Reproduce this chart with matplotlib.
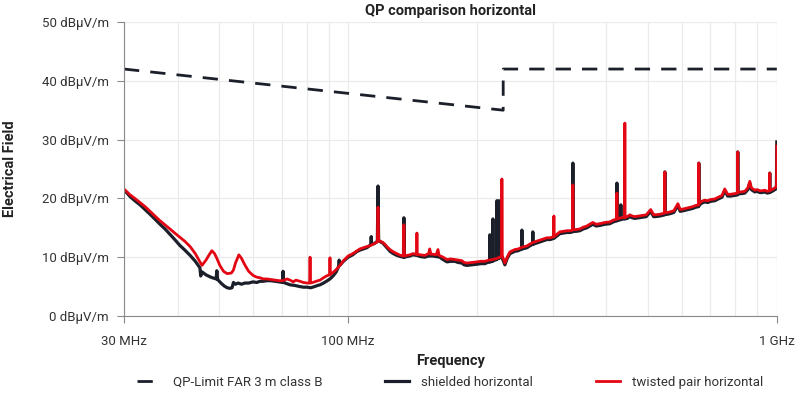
import matplotlib.pyplot as plt
from matplotlib.ticker import FixedLocator, NullFormatter, FixedFormatter

plt.rcParams['font.family'] = ['Roboto', 'DejaVu Sans']

# QP limit line (FAR 3 m, class B)
limit_f = [30, 230, 230, 1000]
limit_db = [42, 35, 42, 42]

# measured traces: (frequency MHz, level dBuV/m)
shielded_pts = [
    (30, 21.4), (30.5, 20.9), (31.0, 20.3), (31.8, 19.6), (32.7, 18.9), (33.6, 18.1),
    (34.5, 17.3), (35.4, 16.5), (36.4, 15.6), (37.4, 14.8), (38.4, 13.9), (39.4, 13.0),
    (40.5, 12.0), (41.6, 11.2), (42.8, 10.3), (44.0, 9.3), (45.1, 8.2), (45.3, 6.8),
    (45.6, 7.5), (46.6, 7.0), (47.8, 6.6), (49.2, 6.3), (49.4, 7.7), (49.6, 6.2),
    (50.5, 5.6), (51.4, 5.1), (52.2, 4.8), (53.0, 4.7), (53.6, 4.8), (54.0, 5.7),
    (54.6, 5.4), (55.4, 5.6), (56.4, 5.4), (57.4, 5.6), (58.6, 5.6), (60.0, 5.8),
    (61.2, 5.7), (62.3, 5.9), (63.4, 5.9), (64.6, 6.0), (66.0, 6.0), (67.5, 5.9),
    (69.0, 5.8), (70.3, 5.7), (70.5, 7.6), (70.7, 5.7), (72.0, 5.5), (73.2, 5.3),
    (75.0, 5.2), (77.2, 5.0), (78.6, 4.9), (80.2, 4.9), (81.8, 4.8), (83.5, 5.0),
    (85.0, 5.2), (86.0, 5.3), (87.6, 5.6), (89.0, 5.9), (90.7, 6.3), (92.2, 6.8),
    (93.8, 7.5), (95.0, 8.4), (95.3, 9.5), (95.6, 8.6), (97.5, 9.3), (100.0, 10.0),
    (102.5, 10.4), (104.5, 10.9), (106.5, 11.2), (108.5, 11.4), (110.5, 11.6), (112.0, 11.9),
    (113.0, 12.2), (113.2, 13.5), (113.4, 12.2), (115.0, 12.3), (117.0, 12.7), (117.4, 22.1),
    (117.8, 12.9), (119.0, 12.6), (120.5, 12.4), (121.8, 12.0), (123.5, 11.5), (125.2, 11.0),
    (127.5, 10.6), (130.0, 10.3), (132.5, 10.1), (134.6, 10.0), (134.9, 16.7), (135.3, 10.0),
    (137.0, 10.1), (139.4, 10.2), (141.5, 10.4), (144.7, 10.3), (147.5, 10.1), (151.0, 10.0),
    (154.0, 10.2), (157.7, 10.2), (160.5, 10.1), (163.7, 10.0), (166.5, 9.6), (170.0, 9.2),
    (173.5, 9.3), (177.4, 9.3), (180.5, 9.1), (184.2, 9.0), (186.5, 8.7), (189.2, 8.6),
    (194.5, 8.7), (199.7, 8.8), (204.0, 8.9), (208.4, 8.9), (211.5, 9.1), (213.9, 9.2),
    (214.1, 13.8), (214.4, 9.2), (217.3, 9.3), (217.6, 16.5), (217.9, 9.4), (222.1, 9.6),
    (222.4, 19.6), (222.7, 9.7), (224.6, 9.8), (224.8, 19.6), (225.1, 9.9), (228.4, 10.0),
    (232.1, 8.7), (235.0, 9.8), (238.4, 10.6), (241.5, 10.8), (244.9, 11.0), (249.5, 11.1),
    (254.0, 11.4), (254.3, 14.6), (254.6, 11.4), (261.2, 11.6), (265.0, 11.9), (269.4, 12.2),
    (269.7, 14.3), (270.0, 12.2), (275.0, 12.4), (280.1, 12.6), (285.5, 12.8), (290.8, 13.0),
    (296.0, 13.0), (302.0, 13.2), (307.0, 13.6), (311.8, 14.0), (317.5, 14.1), (323.7, 14.2),
    (329.0, 14.2), (334.1, 14.3), (334.4, 26.0), (334.7, 14.4), (340.5, 14.4), (347.2, 14.5),
    (353.5, 14.8), (360.5, 15.0), (366.0, 15.3), (372.3, 15.6), (379.0, 15.3), (386.7, 15.4),
    (397.0, 15.6), (407.9, 15.7), (415.5, 16.0), (423.3, 16.2), (423.6, 22.6), (423.9, 16.2),
    (428.0, 16.3), (432.5, 16.4), (432.7, 18.9), (433.0, 16.4), (437.0, 16.5), (442.1, 16.5),
    (448.0, 16.6), (454.1, 16.9), (460.0, 16.7), (466.4, 16.6), (476.0, 16.7), (486.9, 16.8),
    (496.0, 16.9), (508.0, 17.8), (516.0, 16.9), (520.0, 16.9), (533.5, 17.0), (541.0, 17.1),
    (547.8, 17.2), (548.1, 24.5), (548.4, 17.3), (556.0, 17.3), (563.0, 17.4), (575.0, 17.6),
    (588.0, 18.8), (595.0, 17.8), (605.0, 17.9), (620.0, 18.1), (636.8, 18.3), (647.0, 18.5),
    (657.5, 18.6), (657.8, 26.0), (658.1, 18.8), (668.0, 19.2), (679.4, 19.4), (690.0, 19.3),
    (700.0, 19.5), (716.7, 19.6), (730.0, 19.9), (745.0, 20.2), (756.0, 21.3), (768.0, 20.4),
    (780.9, 20.4), (795.0, 20.5), (810.6, 20.6), (810.9, 27.9), (811.2, 20.8), (825.0, 20.8),
    (842.0, 20.9), (856.0, 21.5), (865.0, 22.6), (872.0, 21.5), (888.5, 21.1), (900.0, 21.2),
    (912.6, 21.0), (925.0, 21.0), (937.4, 21.1), (950.0, 20.9), (962.6, 21.0), (962.9, 24.3),
    (963.2, 21.0), (975.0, 21.2), (985.0, 21.4), (995.0, 21.6), (998.0, 22.0), (1000.0, 29.6),
]

twisted_pts = [
    (30, 21.6), (30.5, 21.1), (31.0, 20.6), (31.8, 20.0), (32.7, 19.3), (33.6, 18.6),
    (34.5, 17.8), (35.4, 17.0), (36.4, 16.2), (37.4, 15.5), (38.4, 14.8), (39.4, 14.1),
    (40.5, 13.4), (41.6, 12.7), (42.8, 11.8), (44.0, 10.6), (45.1, 9.2), (45.6, 8.6),
    (46.6, 9.5), (47.4, 10.4), (48.1, 11.1), (48.8, 10.6), (49.4, 9.8), (50.2, 8.6),
    (51.2, 7.6), (52.2, 7.2), (53.4, 7.3), (54.0, 7.8), (54.6, 9.0), (55.6, 10.4),
    (56.4, 9.8), (57.4, 8.7), (58.6, 7.6), (60.0, 6.9), (61.2, 6.6), (62.3, 6.5),
    (63.4, 6.3), (64.6, 6.3), (66.0, 6.2), (67.5, 6.1), (69.0, 6.0), (70.5, 6.0),
    (72.0, 6.3), (73.2, 6.1), (74.5, 5.8), (75.5, 6.1), (77.2, 5.9), (78.6, 5.7),
    (80.2, 5.6), (81.3, 5.6), (81.5, 10.0), (81.7, 5.6), (83.5, 5.8), (85.0, 6.0),
    (86.0, 6.1), (87.6, 6.5), (89.0, 6.8), (90.5, 7.0), (90.7, 9.9), (90.9, 7.1),
    (92.2, 7.4), (93.8, 7.9), (95.7, 8.6), (97.5, 9.4), (100.0, 10.2), (102.5, 10.6),
    (104.5, 11.0), (106.5, 11.4), (108.5, 11.6), (110.5, 11.8), (113.0, 12.0), (115.0, 12.3),
    (117.0, 12.6), (117.4, 18.5), (117.8, 12.8), (119.0, 12.7), (120.5, 12.5), (121.8, 12.2),
    (123.5, 11.7), (125.2, 11.3), (127.5, 10.9), (130.0, 10.6), (132.5, 10.3), (134.6, 10.2),
    (134.9, 15.5), (135.3, 10.2), (137.0, 10.3), (139.4, 10.4), (141.5, 10.6), (144.5, 10.5),
    (144.7, 14.1), (144.9, 10.5), (147.5, 10.4), (151.0, 10.3), (154.0, 10.6), (155.0, 11.4),
    (156.0, 10.5), (157.7, 10.5), (160.5, 10.4), (162.0, 11.3), (163.0, 10.3), (166.5, 10.0),
    (170.0, 9.6), (173.5, 9.7), (177.4, 9.6), (180.5, 9.5), (184.2, 9.4), (186.5, 9.1),
    (189.2, 9.0), (194.5, 9.1), (199.7, 9.2), (204.0, 9.3), (208.4, 9.3), (213.0, 9.5),
    (217.6, 9.6), (222.4, 9.8), (226.0, 10.0), (228.2, 10.2), (228.4, 23.3), (228.7, 10.3),
    (232.1, 9.0), (235.0, 10.0), (238.4, 10.9), (241.5, 11.1), (244.9, 11.3), (249.5, 11.4),
    (254.3, 11.7), (261.2, 11.9), (265.0, 12.2), (269.7, 12.5), (275.0, 12.7), (280.1, 12.9),
    (285.5, 13.1), (290.8, 13.3), (296.0, 13.3), (301.7, 13.5), (302.0, 17.0), (302.3, 13.5),
    (307.0, 13.9), (311.8, 14.3), (317.5, 14.4), (323.7, 14.5), (329.0, 14.5), (334.1, 14.6),
    (334.4, 22.3), (334.7, 14.7), (340.5, 14.7), (347.2, 14.8), (353.5, 15.1), (360.5, 15.3),
    (366.0, 15.6), (372.3, 15.9), (379.0, 15.6), (386.7, 15.7), (397.0, 15.9), (407.9, 16.0),
    (415.5, 16.3), (423.3, 16.5), (423.6, 20.9), (423.9, 16.5), (432.7, 16.7), (441.8, 16.8),
    (442.1, 32.8), (442.4, 16.8), (448.0, 16.9), (454.1, 17.2), (460.0, 17.0), (466.4, 16.9),
    (476.0, 17.0), (486.9, 17.1), (496.0, 17.2), (508.0, 18.1), (516.0, 17.2), (520.0, 17.2),
    (533.5, 17.3), (541.0, 17.4), (547.8, 17.5), (548.1, 24.5), (548.4, 17.6), (556.0, 17.6),
    (563.0, 17.7), (575.0, 17.9), (588.0, 19.1), (595.0, 18.1), (605.0, 18.2), (620.0, 18.4),
    (636.8, 18.6), (647.0, 18.8), (657.5, 18.9), (657.8, 26.0), (658.1, 19.1), (668.0, 19.5),
    (679.4, 19.7), (690.0, 19.6), (700.0, 19.8), (716.7, 19.9), (730.0, 20.2), (745.0, 20.5),
    (756.0, 21.6), (768.0, 20.7), (780.9, 20.7), (795.0, 20.8), (810.6, 20.9), (810.9, 27.9),
    (811.2, 21.1), (825.0, 21.1), (842.0, 21.2), (856.0, 21.8), (865.0, 22.9), (872.0, 21.8),
    (888.5, 21.4), (900.0, 21.5), (912.6, 21.3), (925.0, 21.3), (937.4, 21.4), (950.0, 21.2),
    (962.6, 21.3), (962.9, 24.3), (963.2, 21.3), (975.0, 21.5), (985.0, 21.7), (995.0, 21.9),
    (998.0, 22.3), (1000.0, 28.9),
]

y_ticks = [0, 10, 20, 30, 40, 50]
y_labels = [f"{v} dBµV/m" for v in y_ticks]
x_ticks = [30, 100, 1000]
x_labels = ["30 MHz", "100 MHz", "1 GHz"]
x_minor = [40, 50, 60, 70, 80, 90, 200, 300, 400, 500, 600, 700, 800, 900]

shielded_f, shielded_db = zip(*shielded_pts)
twisted_f, twisted_db = zip(*twisted_pts)

navy = '#1b1f2a'
red = '#e30613'
text_c = '#333333'

fig = plt.figure(figsize=(8, 3.93), dpi=100)
ax = fig.add_axes([0.155, 0.196, 0.816, 0.748])

ax.plot(limit_f, limit_db, color=navy, lw=2, dashes=(5.5, 4), label='QP-Limit FAR 3 m class B')
ax.plot(shielded_f, shielded_db, color=navy, lw=2.3, label='shielded horizontal')
ax.plot(twisted_f, twisted_db, color=red, lw=2.0, label='twisted pair horizontal')

ax.set_xscale('log')
ax.set_xlim(30, 1000)
ax.set_ylim(0, 50)
ax.xaxis.set_major_locator(FixedLocator(x_ticks))
ax.xaxis.set_major_formatter(FixedFormatter(x_labels))
ax.xaxis.set_minor_locator(FixedLocator(x_minor))
ax.xaxis.set_minor_formatter(NullFormatter())
ax.set_yticks(y_ticks)
ax.set_yticklabels(y_labels)

ax.grid(True, which='both', color='#ebebeb', lw=0.9)
ax.set_axisbelow(True)
for s in ['top', 'right']:
    ax.spines[s].set_visible(False)
for s in ['left', 'bottom']:
    ax.spines[s].set_color('#8a8a8a')
ax.tick_params(which='major', length=5, color='#8a8a8a', labelsize=9.5, labelcolor=text_c, pad=6)
ax.tick_params(axis='x', which='major', pad=9)
ax.tick_params(which='minor', length=0)

ax.set_title('QP comparison horizontal', fontsize=10.5, fontweight='bold', color='#222222', pad=5)
ax.set_xlabel('Frequency', fontsize=10.5, fontweight='bold', color='#222222', labelpad=4)
fig.text(0.013, 0.57, 'Electrical Field', rotation=90, fontsize=10.5, fontweight='bold',
         color='#222222', ha='center', va='center')

fig.legend(loc='lower center', bbox_to_anchor=(0.5625, -0.02), ncol=3, frameon=False,
           fontsize=9.5, handlelength=1.8, handletextpad=0.9, columnspacing=4.8,
           labelcolor=text_c)

fig.savefig('out.png', dpi=100)
